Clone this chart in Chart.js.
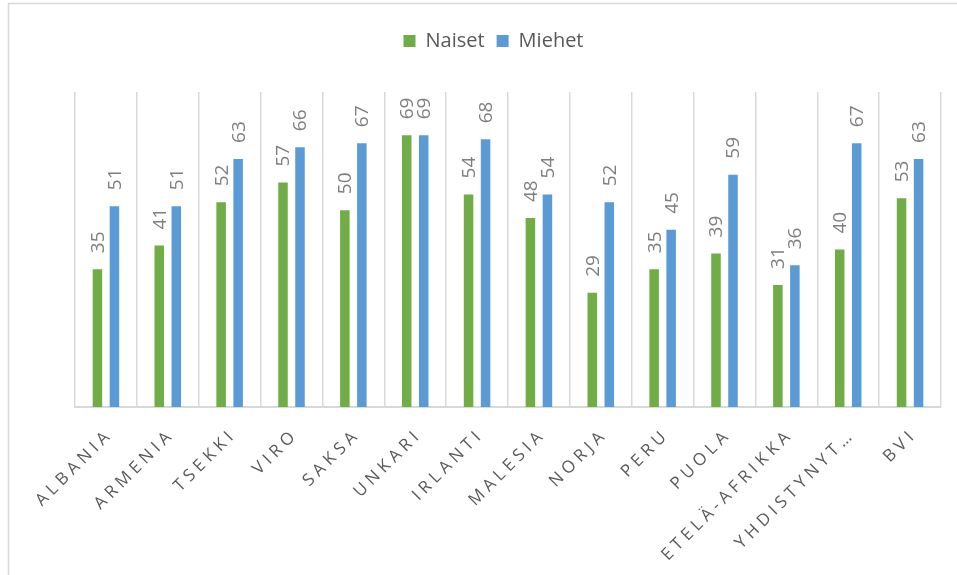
<!DOCTYPE html>
<html>
<head>
<meta charset="utf-8">
<script src="https://cdn.jsdelivr.net/npm/chart.js@4/dist/chart.umd.min.js"></script>
<style>
  html, body { margin: 0; padding: 0; background: #fff; }
  #wrap { position: relative; width: 957px; height: 575px; }
</style>
</head>
<body>
<div id="wrap"><canvas id="c" width="957" height="575"></canvas></div>
<script>
const categories = ['ALBANIA', 'ARMENIA', 'TSEKKI', 'VIRO', 'SAKSA', 'UNKARI', 'IRLANTI', 'MALESIA', 'NORJA', 'PERU', 'PUOLA', 'ETELÄ-AFRIKKA', 'YHDISTYNYT…', 'BVI'];
const naiset = [35, 41, 52, 57, 50, 69, 54, 48, 29, 35, 39, 31, 40, 53];
const miehet = [51, 51, 63, 66, 67, 69, 68, 54, 52, 45, 59, 36, 67, 63];
const seriesNames = ['Naiset', 'Miehet'];

const FONT = '"Open Sans", "DejaVu Sans", sans-serif';

const frame = {
  id: 'frame',
  beforeDraw(chart) {
    const ctx = chart.ctx;
    ctx.save();
    ctx.strokeStyle = '#d9d9d9';
    ctx.lineWidth = 1.5;
    ctx.beginPath();
    ctx.moveTo(8.5, 575);
    ctx.lineTo(8.5, 3.5);
    ctx.lineTo(957, 3.5);
    ctx.stroke();
    ctx.restore();
  }
};

const legendFit = {
  id: 'legendFit',
  beforeInit(chart) {
    const lg = chart.legend;
    if (!lg) return;
    const orig = lg.fit;
    lg.fit = function () {
      orig.call(this);
      this.height = 73;
    };
  }
};

const valueLabels = {
  id: 'valueLabels',
  afterDatasetsDraw(chart) {
    const ctx = chart.ctx;
    ctx.save();
    ctx.fillStyle = '#7f7f7f';
    ctx.font = '19px ' + FONT;
    ctx.textAlign = 'left';
    ctx.textBaseline = 'middle';
    chart.data.datasets.forEach((ds, di) => {
      const meta = chart.getDatasetMeta(di);
      meta.data.forEach((bar, i) => {
        ctx.save();
        ctx.translate(bar.x + 1, bar.y - 16);
        ctx.rotate(-Math.PI / 2);
        ctx.fillText(String(ds.data[i]), 0, 0);
        ctx.restore();
      });
    });
    ctx.restore();
  }
};

const xLabels = {
  id: 'xLabels',
  afterDraw(chart) {
    const ctx = chart.ctx;
    const xs = chart.scales.x;
    const base = chart.chartArea.bottom;
    ctx.save();
    ctx.fillStyle = '#595959';
    ctx.font = '17px ' + FONT;
    ctx.textAlign = 'right';
    ctx.textBaseline = 'middle';
    const sp = 4.5;
    try { ctx.letterSpacing = sp + 'px'; } catch (e) {}
    chart.data.labels.forEach((lab, i) => {
      const x = xs.getPixelForValue(i);
      ctx.save();
      ctx.translate(x + 1 + sp * 0.707, base + 28 - sp * 0.707);
      ctx.rotate(-Math.PI / 4);
      ctx.fillText(lab, 0, 0);
      ctx.restore();
    });
    ctx.restore();
  }
};

new Chart(document.getElementById('c'), {
  type: 'bar',
  data: {
    labels: categories,
    datasets: [
      { label: seriesNames[0], data: naiset, backgroundColor: '#70ad47', categoryPercentage: 0.55, barPercentage: 0.56 },
      { label: seriesNames[1], data: miehet, backgroundColor: '#5b9bd5', categoryPercentage: 0.55, barPercentage: 0.56 }
    ]
  },
  options: {
    responsive: false,
    animation: false,
    devicePixelRatio: 1,
    layout: { padding: { top: 19, left: 46, right: 16, bottom: 168 } },
    plugins: {
      legend: {
        position: 'top',
        labels: {
          boxWidth: 12, boxHeight: 12, padding: 12,
          color: '#595959',
          font: { family: FONT, size: 20 }
        }
      },
      tooltip: { enabled: false }
    },
    scales: {
      x: {
        grid: { display: true, offset: true, color: '#d9d9d9', lineWidth: 1.5, drawTicks: false },
        border: { display: true, color: '#d9d9d9', width: 2 },
        ticks: { display: false }
      },
      y: {
        display: true,
        min: 0, max: 80,
        grid: { display: false },
        border: { display: false },
        ticks: { display: false },
        afterFit(scale) { scale.width = 29; }
      }
    }
  },
  plugins: [frame, legendFit, valueLabels, xLabels]
});
</script>
</body>
</html>
